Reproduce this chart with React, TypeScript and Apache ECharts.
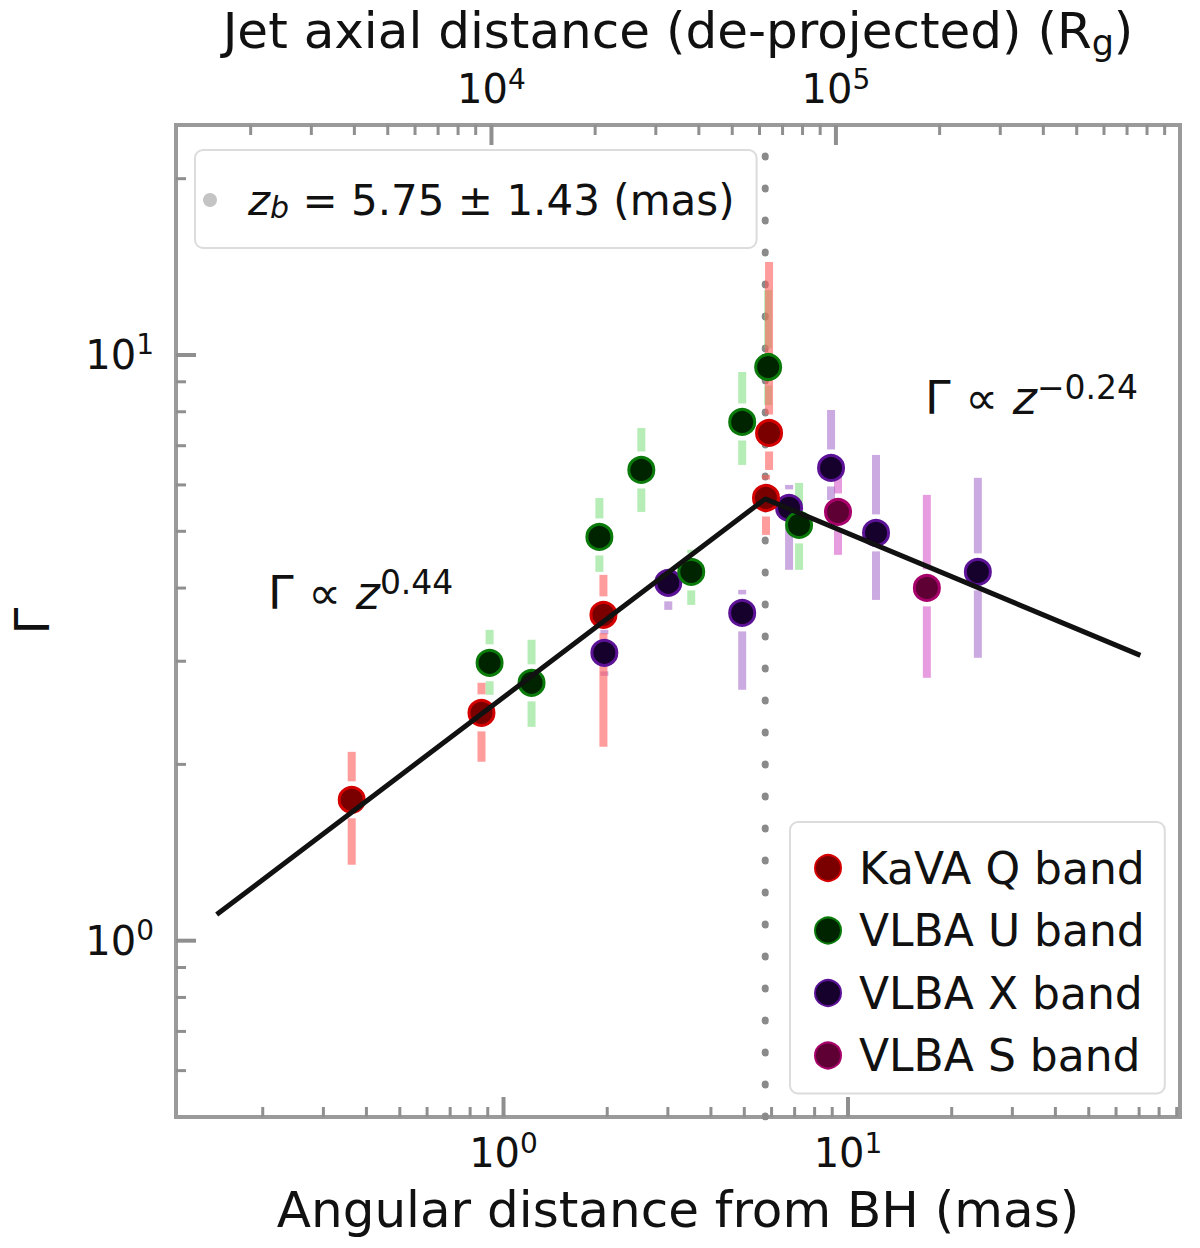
import React, { useEffect, useRef } from "react";
import * as echarts from "echarts";

const FONT = "DejaVu Sans";

// ---- axis ranges (data units) ----
const X_MIN = 0.112;
const X_MAX = 92;
const Y_MIN = 0.5;
const Y_MAX = 24.7;
const MAS_TO_RG = 10840; // top axis conversion (R_g per mas, de-projected)

// ---- KaVA Q band ----
const qX = [0.3625, 0.863, 1.95, 5.9, 5.78];
const qY = [1.74, 2.449, 3.6, 7.36, 5.7];
const qLo = [1.348, 2.021, 2.143, 6.364, 4.93];
const qHi = [2.101, 2.756, 4.213, 14.41, 6.24];

// ---- VLBA U band ----
const uX = [0.911, 1.206, 1.898, 2.512, 3.507, 4.93, 5.864, 7.21];
const uY = [2.982, 2.756, 4.891, 6.364, 4.263, 7.685, 9.539, 5.128];
const uLo = [2.629, 2.318, 4.263, 5.396, 3.744, 6.49, 8.216, 4.297];
const uHi = [3.394, 3.264, 5.7, 7.505, 4.65, 9.354, 12.91, 6.047];

// ---- VLBA X band ----
const xbX = [1.962, 3.008, 4.93, 6.745, 8.929, 12.06, 23.82];
const xbY = [3.101, 4.083, 3.628, 5.482, 6.414, 4.969, 4.263];
const xbLo = [2.833, 3.671, 2.682, 4.297, 5.656, 3.818, 3.041];
const xbHi = [3.394, 4.382, 3.972, 6.0, 8.055, 6.751, 6.17];

// ---- VLBA S band ----
const sX = [9.354, 16.94];
const sY = [5.396, 4.003];
const sLo = [4.558, 2.811];
const sHi = [6.24, 5.77];

// ---- broken power-law fit ----
const fitX = [0.147, 5.75, 70.6];
const fitY = [1.108, 5.68, 3.07];
const ZB = 5.75;
const ZB_TEXT = "5.75 ± 1.43 (mas)";
const SLOPE_IN = "0.44";
const SLOPE_OUT = "−0.24";

const L = Math.log10;

const TICK_COLOR = "#8f8f8f";
const MARKER = 25;
const ERR_GAP = 6;
const MINOR_LEN = 10;
const MAJOR_LEN = 20;

// tick positions (log10 space) with their lengths
function tickValues(lo: number, hi: number): number[][] {
  const out: number[][] = [];
  for (let n = Math.floor(L(lo)); n <= Math.ceil(L(hi)); n++) {
    for (let k = 1; k <= 9; k++) {
      const v = k * Math.pow(10, n);
      if (v > lo && v < hi) out.push([L(v), k === 1 ? MAJOR_LEN : MINOR_LEN]);
    }
  }
  return out;
}

const supLabel = (v: number) => `{b|10}{s|${Math.round(v)}}`;
const labelRich = {
  b: { fontFamily: FONT, fontSize: 40, color: "#111", lineHeight: 48 },
  s: { fontFamily: FONT, fontSize: 28, color: "#111", verticalAlign: "top", lineHeight: 28 },
};

function errSeries(name: string, xs: number[], ys: number[], lo: number[], hi: number[], color: string) {
  return {
    type: "custom",
    name: name + " err",
    silent: true,
    z: 2,
    xAxisIndex: 0,
    yAxisIndex: 0,
    encode: { x: 0, y: 1 },
    data: xs.map((x, i) => [L(x), L(ys[i]), L(lo[i]), L(hi[i])]),
    renderItem: (params: any, api: any) => {
      const x = api.value(0);
      const pc = api.coord([x, api.value(1)]);
      const pl = api.coord([x, api.value(2)]);
      const ph = api.coord([x, api.value(3)]);
      const gap = MARKER / 2 + ERR_GAP;
      const children: any[] = [];
      const style = { stroke: color, lineWidth: 8 };
      if (pc[1] - gap > ph[1]) {
        children.push({ type: "line", shape: { x1: pc[0], y1: ph[1], x2: pc[0], y2: pc[1] - gap }, style });
      }
      if (pl[1] > pc[1] + gap) {
        children.push({ type: "line", shape: { x1: pc[0], y1: pc[1] + gap, x2: pc[0], y2: pl[1] }, style });
      }
      return { type: "group", children };
    },
  };
}

function pointSeries(name: string, xs: number[], ys: number[], fill: string, edge: string, z: number) {
  return {
    type: "scatter",
    name,
    z,
    symbol: "circle",
    symbolSize: MARKER,
    itemStyle: { color: fill, borderColor: edge, borderWidth: 3, opacity: 1 },
    data: xs.map((x, i) => [L(x), L(ys[i])]),
  };
}

function tickSeries(kind: "bottom" | "top" | "left", ticks: number[][]) {
  return {
    type: "custom",
    silent: true,
    z: 6,
    clip: false,
    xAxisIndex: kind === "top" ? 1 : 0,
    yAxisIndex: 0,
    encode: { x: 0, y: 1 },
    data: ticks.map(([v, len]) => (kind === "left" ? [L(X_MIN) + 0.01, v, len] : [v, L(Y_MIN) + 0.01, len])),
    renderItem: (params: any, api: any) => {
      const cs = params.coordSys;
      const len = api.value(2);
      const p = api.coord([api.value(0), api.value(1)]);
      let shape;
      if (kind === "bottom") shape = { x1: p[0], y1: cs.y + cs.height, x2: p[0], y2: cs.y + cs.height - len };
      else if (kind === "top") shape = { x1: p[0], y1: cs.y, x2: p[0], y2: cs.y + len };
      else shape = { x1: cs.x, y1: p[1], x2: cs.x + len, y2: p[1] };
      return { type: "line", shape, style: { stroke: TICK_COLOR, lineWidth: len > MINOR_LEN ? 4 : 3 } };
    },
  };
}

export default function App() {
  const ref = useRef<HTMLDivElement>(null);
  useEffect(() => {
    if (!ref.current) return;
    const chart = echarts.init(ref.current, null, { renderer: "svg" });

    const axisCommon = {
      type: "value",
      minInterval: 1,
      maxInterval: 1,
      splitLine: { show: false },
      axisLine: { show: false, onZero: false },
      axisTick: { show: false },
    };

    const annoRich = {
      m: { fontFamily: FONT, fontSize: 46, fill: "#111", lineHeight: 54 },
      z: { fontFamily: FONT, fontSize: 46, fontStyle: "italic", fill: "#111", lineHeight: 54 },
      s: { fontFamily: FONT, fontSize: 33, fill: "#111", verticalAlign: "top", lineHeight: 30 },
    };

    const option: any = {
      animation: false,
      backgroundColor: "#fff",
      grid: {
        left: 174,
        right: 20,
        top: 125,
        bottom: 131,
        show: true,
        borderColor: "#9a9a9a",
        borderWidth: 4,
        backgroundColor: "transparent",
      },
      xAxis: [
        {
          ...axisCommon,
          position: "bottom",
          min: L(X_MIN),
          max: L(X_MAX),
          axisLabel: { showMinLabel: false, showMaxLabel: false, margin: 12, formatter: supLabel, rich: labelRich },
          name: "Angular distance from BH (mas)",
          nameLocation: "middle",
          nameGap: 68,
          nameTextStyle: { fontFamily: FONT, fontSize: 50, color: "#111", verticalAlign: "top" },
        },
        {
          ...axisCommon,
          position: "top",
          min: L(X_MIN * MAS_TO_RG),
          max: L(X_MAX * MAS_TO_RG),
          axisLabel: { showMinLabel: false, showMaxLabel: false, margin: 12, formatter: supLabel, rich: labelRich },
          name: "{t|Jet axial distance (de-projected) (R}{sub|g}{t|)}",
          nameLocation: "middle",
          nameGap: 56,
          nameTextStyle: {
            fontFamily: FONT,
            fontSize: 50,
            color: "#111",
            rich: {
              t: { fontFamily: FONT, fontSize: 50, color: "#111", lineHeight: 58 },
              sub: { fontFamily: FONT, fontSize: 35, color: "#111", verticalAlign: "bottom", lineHeight: 35 },
            },
          },
        },
      ],
      yAxis: [
        {
          ...axisCommon,
          position: "left",
          min: L(Y_MIN),
          max: L(Y_MAX),
          axisLabel: { showMinLabel: false, showMaxLabel: false, margin: 22, formatter: supLabel, rich: labelRich },
          name: "Γ",
          nameLocation: "middle",
          nameGap: 120,
          nameTextStyle: { fontFamily: FONT, fontSize: 48, color: "#111" },
        },
      ],
      legend: [
        {
          data: ["KaVA Q band", "VLBA U band", "VLBA X band", "VLBA S band"],
          orient: "vertical",
          left: 790,
          top: 822,
          padding: [24, 20, 16, 24],
          itemGap: 18.5,
          itemWidth: 52,
          itemHeight: 26,
          textStyle: { fontFamily: FONT, fontSize: 44, color: "#111", lineHeight: 44 },
          backgroundColor: "rgba(255,255,255,0.8)",
          borderColor: "#dcdcdc",
          borderWidth: 2,
          borderRadius: 8,
          selectedMode: false,
        },
        {
          data: [{ name: "zb", icon: "circle", itemStyle: { color: "#c4c4c4", borderWidth: 0 } }],
          left: 195,
          top: 150,
          padding: [28, 22, 26, 8],
          itemWidth: 14,
          itemHeight: 14,
          formatter: () => `{i|z}{sub|b}{n| = ${ZB_TEXT}}`,
          textStyle: {
            fontFamily: FONT,
            fontSize: 42,
            color: "#111",
            lineHeight: 44,
            padding: [0, 0, 0, 26],
            rich: {
              i: { fontFamily: FONT, fontSize: 42, fontStyle: "italic", color: "#111", lineHeight: 44 },
              sub: { fontFamily: FONT, fontSize: 30, fontStyle: "italic", color: "#111", verticalAlign: "bottom", lineHeight: 30 },
              n: { fontFamily: FONT, fontSize: 42, color: "#111", lineHeight: 44 },
            },
          },
          backgroundColor: "rgba(255,255,255,0.8)",
          borderColor: "#dcdcdc",
          borderWidth: 2,
          borderRadius: 8,
          selectedMode: false,
        },
      ],
      graphic: [
        {
          type: "text",
          left: 268,
          top: 566,
          z: 10,
          style: { text: `{m|Γ ∝ }{z|z}{s|${SLOPE_IN}}`, rich: annoRich },
        },
        {
          type: "text",
          left: 925,
          top: 371,
          z: 10,
          style: { text: `{m|Γ ∝ }{z|z}{s|${SLOPE_OUT}}`, rich: annoRich },
        },
      ],
      series: [
        {
          type: "line",
          name: "zb",
          z: 1,
          symbol: "none",
          silent: true,
          data: [
            [L(ZB), L(Y_MIN)],
            [L(ZB), L(Y_MAX)],
          ],
          lineStyle: { color: "#8a8a8a", width: 7, type: [1, 31], cap: "round" },
          itemStyle: { color: "#8a8a8a" },
        },
        errSeries("VLBA S band", sX, sY, sLo, sHi, "rgba(214,90,200,0.6)"),
        errSeries("VLBA X band", xbX, xbY, xbLo, xbHi, "rgba(160,100,200,0.55)"),
        errSeries("VLBA U band", uX, uY, uLo, uHi, "rgba(110,220,110,0.5)"),
        errSeries("KaVA Q band", qX, qY, qLo, qHi, "rgba(255,90,90,0.6)"),
        pointSeries("VLBA S band", sX, sY, "#5e0034", "#a8006a", 3),
        pointSeries("VLBA X band", xbX, xbY, "#16002c", "#5c1296", 3),
        pointSeries("VLBA U band", uX, uY, "#002400", "#0a7a0a", 3),
        pointSeries("KaVA Q band", qX, qY, "#7a0000", "#d40000", 3),
        {
          type: "line",
          name: "fit",
          z: 4,
          symbol: "none",
          silent: true,
          data: fitX.map((x, i) => [L(x), L(fitY[i])]),
          lineStyle: { color: "#111", width: 5 },
        },
        tickSeries("bottom", tickValues(X_MIN, X_MAX)),
        tickSeries("top", tickValues(X_MIN * MAS_TO_RG, X_MAX * MAS_TO_RG)),
        tickSeries("left", tickValues(Y_MIN, Y_MAX)),
      ],
    };

    chart.setOption(option);
    return () => chart.dispose();
  }, []);

  return (
    <div
      ref={ref}
      style={{ position: "absolute", left: 0, top: 0, width: 1200, height: 1248, background: "#fff" }}
    />
  );
}
